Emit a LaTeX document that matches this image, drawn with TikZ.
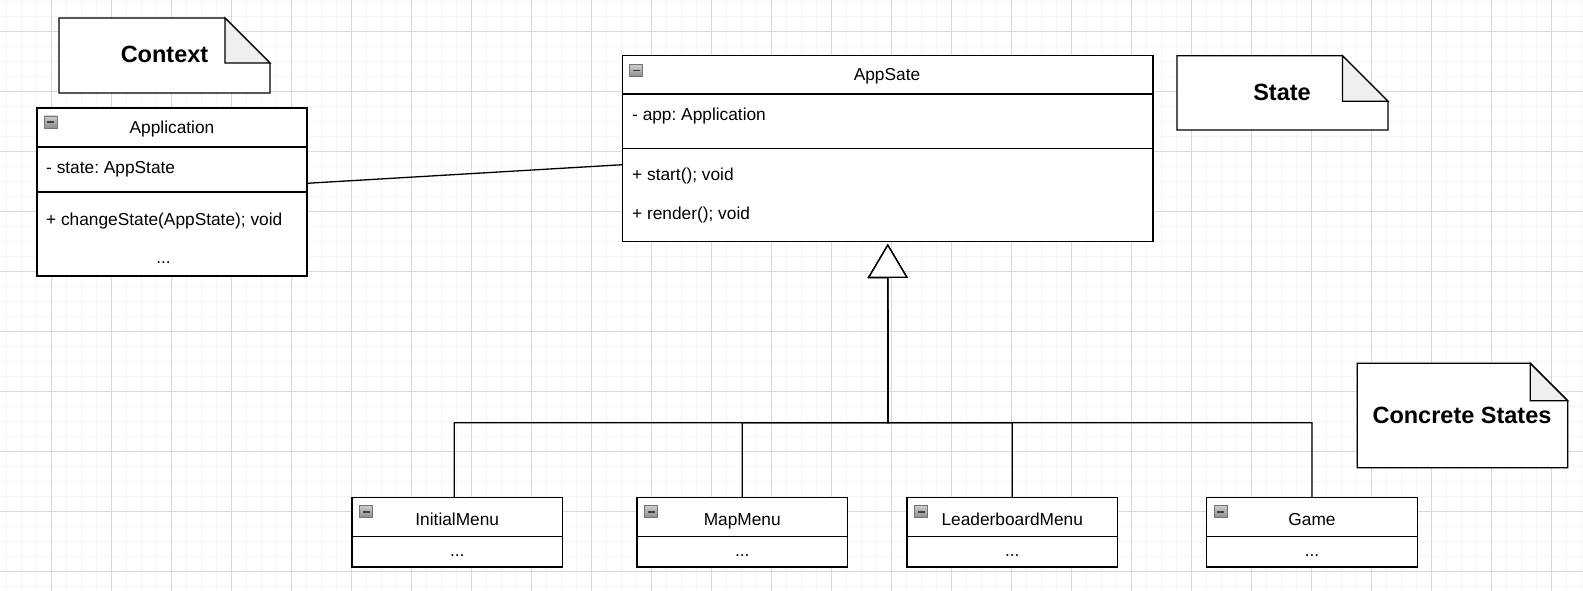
\documentclass[tikz,border=0pt]{standalone}
\usepackage{fontspec}
\setmainfont{Liberation Sans}
\usetikzlibrary{arrows.meta}
\frenchspacing
\definecolor{gridminor}{HTML}{F5F5F5}
\definecolor{gridmajor}{HTML}{D8D8D8}
\definecolor{foldgray}{HTML}{EFEFEF}
\newcommand\umlnote[7]{%
  \draw[notebox] (#2,#3) -- (#4-#6,#3) -- (#4,#3+#6) -- (#4,#5) -- (#2,#5) -- cycle;
  \draw[notebox, fill=foldgray] (#4-#6,#3) -- (#4-#6,#3+#6) -- (#4,#3+#6) -- cycle;
}
\tikzset{
  x=1pt, y=-1pt,
  classbox/.style={draw=black, line width=1.3pt, fill=white, inner sep=0pt, outer sep=0pt},
  sepline/.style={draw=black, line width=1.3pt},
  notebox/.style={draw=black, line width=1.3pt, fill=white, line join=miter},
  notetext/.style={font=\fontsize{23.5}{26}\selectfont\bfseries, anchor=base},
  member/.style={font=\fontsize{17.3}{20}\selectfont, anchor=base west, inner sep=0pt},
  ctitle/.style={font=\fontsize{17.3}{20}\selectfont, anchor=base, inner sep=0pt},
  gen/.style={line width=1.3pt, -{Triangle[length=34pt, width=40pt, fill=white]}},
  assoc/.style={line width=1.3pt},
  collapse/.pic={
    \draw[draw=black!55, line width=0.8pt, top color=black!20, bottom color=black!45] (0,0) rectangle (13,12);
    \draw[line width=1.6pt, draw=black!75] (3,6) -- (10,6);
  }
}
\begin{document}
\begin{tikzpicture}
\useasboundingbox (0,0) rectangle (1583,591);
\fill[white] (0,0) rectangle (1583,591);
% grid
\foreach \gx in {6.3,21.3,...,1583} \draw[gridminor, line width=1.5pt] (\gx,0) -- (\gx,591);
\foreach \gy in {1.3,16.3,...,591} \draw[gridminor, line width=1.5pt] (0,\gy) -- (1583,\gy);
\foreach \gx in {51.3,111.3,...,1583} \draw[gridmajor, line width=0.8pt] (\gx,0) -- (\gx,591);
\foreach \gy in {31.3,91.3,...,591} \draw[gridmajor, line width=0.8pt] (0,\gy) -- (1583,\gy);

% notes
\umlnote{ctx}{59}{18}{270}{93}{45}{}
\node[notetext] (ctxt) at (164.5,62.7) {Context};
\umlnote{st}{1177}{55.7}{1388}{130}{45.5}{}
\node[notetext] (stt) at (1282,101) {State};
\umlnote{cs}{1357.3}{363.3}{1567.7}{467.7}{37.5}{}
\node[notetext] (cst) at (1462,423.5) {Concrete States};

% Application
\node[classbox, minimum width=270pt, minimum height=168pt] (app) at (172,192) {};
\draw[sepline] ([yshift=-39pt]app.north west) -- ([yshift=-39pt]app.north east);
\draw[sepline] ([yshift=-84pt]app.north west) -- ([yshift=-84pt]app.north east);
\pic at ([xshift=7pt,yshift=-8pt]app.north west) {collapse};
\node[ctitle] (appt) at (172,134) {Application};
\node[member] (appa) at (46,174) {- state: AppState};
\node[member] (appm) at (46,225) {+ changeState(AppState); void};
\node[ctitle] (appd) at (163.5,263.5) {...};

% AppSate
\node[classbox, minimum width=530.5pt, minimum height=186pt] (as) at (887.75,148.7) {};
\draw[sepline] ([yshift=-38.3pt]as.north west) -- ([yshift=-38.3pt]as.north east);
\draw[sepline] ([yshift=-93pt]as.north west) -- ([yshift=-93pt]as.north east);
\pic at ([xshift=7pt,yshift=-9pt]as.north west) {collapse};
\node[ctitle] (ast) at (887,81) {AppSate};
\node[member] (asa) at (632,121) {- app: Application};
\node[member] (asm1) at (632,181) {+ start(); void};
\node[member] (asm2) at (632,219) {+ render(); void};

% concrete states
\foreach \nm/\cx/\lbl in {im/457.25/InitialMenu, mm/742.25/MapMenu, lb/1012.3/LeaderboardMenu, gm/1312/Game}{
  \node[classbox, minimum width=210.5pt, minimum height=69.3pt] (\nm) at (\cx,532.35) {};
  \draw[sepline] ([yshift=-39pt]\nm.north west) -- ([yshift=-39pt]\nm.north east);
  \pic at ([xshift=7.5pt,yshift=-8pt]\nm.north west) {collapse};
  \node[ctitle] (\nm t) at (\cx,525) {\lbl};
  \node[ctitle] (\nm d) at (\cx,556.7) {...};
}

% connectors
\coordinate (bus) at (888,422.7);
\coordinate (tip) at ([yshift=-2.3pt]as.south);
\draw[assoc] ([yshift=8.7pt]app.east) -- ([yshift=-16pt]as.west);
\draw[gen] ([xshift=-3pt]im.north) |- (bus) -- (tip);
\draw[gen] (mm.north) |- (bus) -- (tip);
\draw[gen] (lb.north) |- (bus) -- (tip);
\draw[gen] (gm.north) |- (bus) -- (tip);
\end{tikzpicture}
\end{document}
